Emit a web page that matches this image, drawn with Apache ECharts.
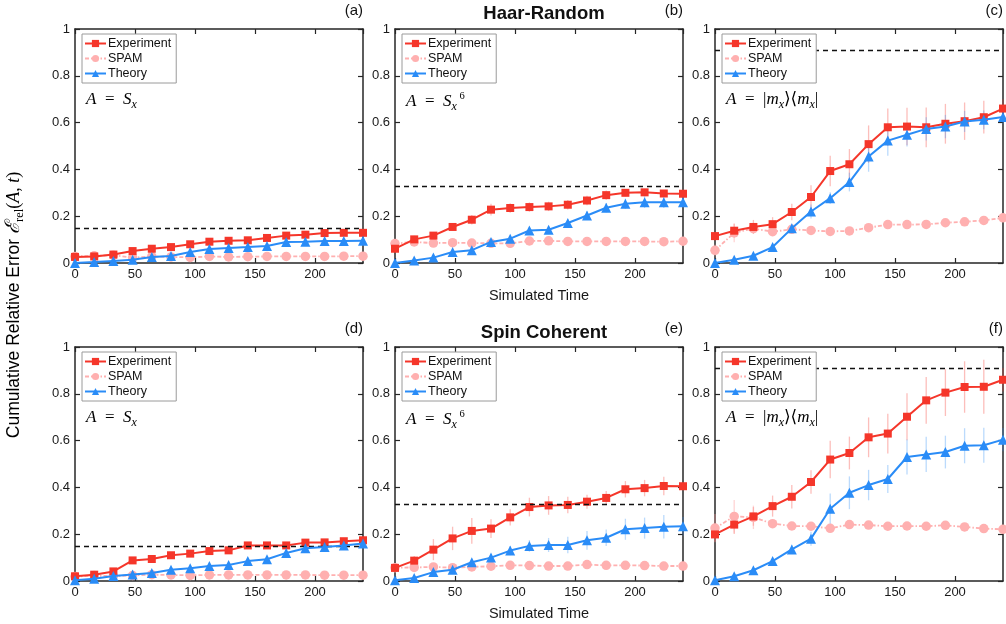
<!DOCTYPE html>
<html><head><meta charset="utf-8">
<script src="https://cdn.jsdelivr.net/npm/echarts@6/dist/echarts.min.js"></script>
<style>html,body{margin:0;padding:0;background:#fff}#c{width:1006px;height:624px}</style>
</head><body><div id="c"></div>
<script>
// ---------- data ----------
const timeSteps = [0,16,32,48,64,80,96,112,128,144,160,176,192,208,224,240];
const xTicks = [0,50,100,150,200];
const yTicks = [0,0.2,0.4,0.6,0.8,1];
const seriesNames = ['Experiment','SPAM','Theory'];
const panelLabels = ['(a)','(b)','(c)','(d)','(e)','(f)'];
const rowTitles = ['Haar-Random','Spin Coherent'];

// (a) Haar-Random, A = Sx
const expA  = [0.026,0.028,0.036,0.051,0.061,0.068,0.080,0.091,0.095,0.097,0.107,0.117,0.121,0.128,0.129,0.129];
const spamA = [0.028,0.031,0.033,0.023,0.028,0.026,0.024,0.028,0.026,0.027,0.028,0.028,0.028,0.028,0.029,0.029];
const theoA = [0.000,0.004,0.009,0.014,0.026,0.030,0.047,0.060,0.064,0.068,0.073,0.090,0.091,0.094,0.094,0.095];
const expErrA  = [0.004,0.004,0.005,0.005,0.006,0.006,0.006,0.006,0.006,0.006,0.006,0.006,0.006,0.006,0.006,0.006];
const spamErrA = [0.004,0.004,0.004,0.004,0.004,0.004,0.004,0.004,0.004,0.004,0.004,0.004,0.004,0.004,0.004,0.004];
const theoErrA = [0.000,0.002,0.003,0.004,0.005,0.005,0.006,0.006,0.006,0.006,0.006,0.006,0.006,0.006,0.006,0.006];
const limitA = 0.15;

// (b) Haar-Random, A = Sx^6
const expB  = [0.061,0.101,0.117,0.154,0.185,0.228,0.235,0.239,0.242,0.249,0.267,0.290,0.300,0.302,0.297,0.296];
const spamB = [0.083,0.090,0.085,0.087,0.085,0.084,0.084,0.094,0.095,0.092,0.092,0.092,0.092,0.092,0.091,0.093];
const theoB = [0.000,0.011,0.023,0.047,0.055,0.090,0.104,0.139,0.142,0.171,0.203,0.236,0.253,0.260,0.260,0.260];
const expErrB  = [0.010,0.015,0.012,0.015,0.020,0.025,0.020,0.020,0.020,0.020,0.020,0.020,0.015,0.015,0.015,0.015];
const spamErrB = [0.010,0.010,0.008,0.008,0.008,0.008,0.008,0.008,0.008,0.008,0.008,0.008,0.008,0.008,0.008,0.008];
const theoErrB = [0.000,0.006,0.008,0.010,0.010,0.012,0.012,0.015,0.015,0.015,0.018,0.020,0.022,0.025,0.025,0.022];
const limitB = 0.325;

// (c) Haar-Random, A = |m_x><m_x|
const expC  = [0.115,0.138,0.154,0.166,0.218,0.282,0.393,0.422,0.508,0.580,0.583,0.580,0.595,0.606,0.623,0.660];
const spamC = [0.054,0.129,0.147,0.134,0.144,0.139,0.135,0.137,0.151,0.164,0.164,0.165,0.172,0.176,0.182,0.193];
const theoC = [0.000,0.014,0.031,0.068,0.148,0.220,0.277,0.346,0.455,0.523,0.548,0.573,0.583,0.605,0.612,0.624];
const expErrC  = [0.020,0.030,0.030,0.030,0.035,0.050,0.065,0.065,0.080,0.080,0.080,0.085,0.085,0.080,0.070,0.040];
const spamErrC = [0.025,0.040,0.020,0.012,0.010,0.010,0.010,0.010,0.010,0.010,0.010,0.010,0.010,0.010,0.010,0.010];
const theoErrC = [0.000,0.010,0.010,0.015,0.020,0.030,0.025,0.040,0.065,0.065,0.050,0.050,0.050,0.045,0.040,0.030];
const limitC = 0.905;

// (d) Spin Coherent, A = Sx
const expD  = [0.020,0.027,0.041,0.088,0.094,0.110,0.117,0.128,0.131,0.152,0.152,0.152,0.164,0.165,0.170,0.174];
const spamD = [0.019,0.023,0.021,0.024,0.027,0.026,0.024,0.026,0.026,0.026,0.026,0.026,0.026,0.025,0.025,0.025];
const theoD = [0.003,0.010,0.021,0.028,0.034,0.048,0.054,0.064,0.068,0.085,0.093,0.120,0.140,0.145,0.152,0.160];
const expErrD  = [0.004,0.005,0.006,0.008,0.008,0.008,0.008,0.008,0.008,0.008,0.008,0.008,0.008,0.008,0.008,0.008];
const spamErrD = [0.004,0.004,0.004,0.004,0.004,0.004,0.004,0.004,0.004,0.004,0.004,0.004,0.004,0.004,0.004,0.004];
const theoErrD = [0.000,0.003,0.004,0.005,0.005,0.006,0.006,0.006,0.006,0.007,0.007,0.008,0.010,0.010,0.010,0.010];
const limitD = 0.15;

// (e) Spin Coherent, A = Sx^6
const expE  = [0.056,0.087,0.134,0.182,0.214,0.224,0.272,0.316,0.323,0.325,0.339,0.355,0.392,0.397,0.406,0.405];
const spamE = [0.057,0.058,0.060,0.057,0.060,0.063,0.067,0.066,0.064,0.064,0.070,0.067,0.067,0.066,0.064,0.064];
const theoE = [0.003,0.013,0.038,0.048,0.080,0.100,0.130,0.150,0.154,0.154,0.174,0.185,0.221,0.226,0.232,0.234];
const expErrE  = [0.010,0.020,0.045,0.050,0.055,0.040,0.035,0.040,0.040,0.035,0.030,0.030,0.035,0.035,0.040,0.015];
const spamErrE = [0.008,0.008,0.008,0.008,0.008,0.008,0.008,0.008,0.008,0.008,0.008,0.008,0.008,0.008,0.008,0.008];
const theoErrE = [0.000,0.010,0.010,0.010,0.010,0.015,0.020,0.025,0.030,0.035,0.040,0.035,0.045,0.045,0.050,0.040];
const limitE = 0.325;

// (f) Spin Coherent, A = |m_x><m_x|
const expF  = [0.199,0.241,0.276,0.320,0.360,0.423,0.519,0.547,0.614,0.630,0.702,0.772,0.805,0.829,0.830,0.860];
const spamF = [0.226,0.276,0.272,0.245,0.235,0.234,0.225,0.241,0.239,0.234,0.235,0.234,0.238,0.231,0.224,0.221];
const theoF = [0.003,0.020,0.046,0.085,0.135,0.181,0.309,0.377,0.410,0.436,0.530,0.541,0.551,0.578,0.580,0.604];
const expErrF  = [0.030,0.040,0.040,0.045,0.050,0.050,0.080,0.070,0.085,0.085,0.100,0.100,0.100,0.110,0.115,0.050];
const spamErrF = [0.060,0.070,0.050,0.012,0.010,0.010,0.010,0.010,0.010,0.010,0.010,0.010,0.010,0.010,0.010,0.010];
const theoErrF = [0.000,0.010,0.015,0.015,0.020,0.030,0.065,0.070,0.065,0.060,0.075,0.075,0.070,0.075,0.075,0.050];
const limitF = 0.905;

// ---------- presentation ----------
const panels = [
  {exp:expA,spam:spamA,theo:theoA,eE:expErrA,eS:spamErrA,eT:theoErrA,lim:limitA,obs:'sx'},
  {exp:expB,spam:spamB,theo:theoB,eE:expErrB,eS:spamErrB,eT:theoErrB,lim:limitB,obs:'sx6'},
  {exp:expC,spam:spamC,theo:theoC,eE:expErrC,eS:spamErrC,eT:theoErrC,lim:limitC,obs:'proj'},
  {exp:expD,spam:spamD,theo:theoD,eE:expErrD,eS:spamErrD,eT:theoErrD,lim:limitD,obs:'sx'},
  {exp:expE,spam:spamE,theo:theoE,eE:expErrE,eS:spamErrE,eT:theoErrE,lim:limitE,obs:'sx6'},
  {exp:expF,spam:spamF,theo:theoF,eE:expErrF,eS:spamErrF,eT:theoErrF,lim:limitF,obs:'proj'}
];
const LEFTS = [75, 395, 715], TOPS = [29, 347], W = 288, H = 234;
const C_EXP = '#f5362a', C_SPAM = '#ffb0b0', C_THEO = '#2a8cf7';
const E_EXP = 'rgba(245,54,42,0.32)', E_SPAM = 'rgba(255,160,160,0.45)', E_THEO = 'rgba(42,140,247,0.32)';
const AX = '#262626';
const SANS = '"Liberation Sans", Arial, Helvetica, sans-serif';
const SERIF = '"Liberation Serif", "DejaVu Serif", serif';

const grid = [], xAxis = [], yAxis = [], series = [], legend = [], graphic = [];

function errSeries(gi, vals, errs, color) {
  return {
    type: 'custom', xAxisIndex: gi*2, yAxisIndex: gi*2, silent: true, z: 1,
    data: timeSteps.map((t, i) => [t, vals[i] - errs[i], vals[i] + errs[i]]),
    encode: {x: 0, y: [1, 2]},
    renderItem: (params, api) => {
      const p1 = api.coord([api.value(0), api.value(1)]);
      const p2 = api.coord([api.value(0), api.value(2)]);
      return {type: 'line', shape: {x1: p1[0], y1: p1[1], x2: p2[0], y2: p2[1]},
              style: {stroke: color, lineWidth: 1.3}};
    }
  };
}

const mathRich = {
  i: {fontFamily: SERIF, fontStyle: 'italic', fontSize: 17, lineHeight: 22, color: '#111'},
  o: {fontFamily: SERIF, fontSize: 17, lineHeight: 22, color: '#111'},
  sub: {fontFamily: SERIF, fontStyle: 'italic', fontSize: 12, lineHeight: 12, verticalAlign: 'bottom', color: '#111'},
  sup: {fontFamily: SERIF, fontSize: 10.5, lineHeight: 10, verticalAlign: 'top', color: '#111'}
};
const obsText = {
  sx: '{i|A}{o|  =  }{i|S}{sub|x}',
  sx6: '{i|A}{o|  =  }{i|S}{sub|x}{sup| 6}',
  proj: '{i|A}{o|  =  |}{i|m}{sub|x}{o|⟩⟨}{i|m}{sub|x}{o||}'
};

panels.forEach((p, g) => {
  const row = Math.floor(g / 3), col = g % 3;
  const left = LEFTS[col], top = TOPS[row];
  grid.push({left: left, top: top, width: W, height: H, containLabel: false});
  const common = {type: 'value', min: 0, gridIndex: g, splitLine: {show: false}};
  xAxis.push(Object.assign({}, common, {
    max: 240, interval: 50, position: 'bottom',
    axisLine: {onZero: false, lineStyle: {color: AX, width: 1.5}},
    axisTick: {inside: true, length: 5, lineStyle: {color: AX, width: 1.2}},
    axisLabel: {color: '#1a1a1a', fontSize: 13, fontFamily: SANS, margin: 5, showMaxLabel: false},
    name: col === 1 ? 'Simulated Time' : '', nameLocation: 'middle', nameGap: 25,
    nameTextStyle: {fontSize: 14.5, fontFamily: SANS, color: '#1a1a1a'}
  }));
  xAxis.push(Object.assign({}, common, {
    max: 240, interval: 50, position: 'top',
    axisLine: {onZero: false, lineStyle: {color: AX, width: 1.5}},
    axisTick: {inside: true, length: 5, lineStyle: {color: AX, width: 1.2}},
    axisLabel: {show: false}
  }));
  yAxis.push(Object.assign({}, common, {
    max: 1, interval: 0.2, position: 'left',
    axisLine: {show: true, onZero: false, lineStyle: {color: AX, width: 1.5}},
    axisTick: {show: true, inside: true, length: 5, lineStyle: {color: AX, width: 1.2}},
    axisLabel: {color: '#1a1a1a', fontSize: 13, fontFamily: SANS, margin: 5}
  }));
  yAxis.push(Object.assign({}, common, {
    max: 1, interval: 0.2, position: 'right',
    axisLine: {show: true, onZero: false, lineStyle: {color: AX, width: 1.5}},
    axisTick: {show: true, inside: true, length: 5, lineStyle: {color: AX, width: 1.2}},
    axisLabel: {show: false}
  }));

  series.push(errSeries(g, p.exp, p.eE, E_EXP));
  series.push(errSeries(g, p.spam, p.eS, E_SPAM));
  series.push(errSeries(g, p.theo, p.eT, E_THEO));

  series.push({
    name: 'Experiment', type: 'line', xAxisIndex: g*2, yAxisIndex: g*2, z: 4,
    data: timeSteps.map((t, i) => [t, p.exp[i]]),
    symbol: 'rect', symbolSize: 8, showSymbol: true,
    lineStyle: {color: C_EXP, width: 2}, itemStyle: {color: C_EXP},
    markLine: {silent: true, symbol: 'none', label: {show: false}, animation: false,
      lineStyle: {color: '#111', type: [5, 4], width: 1.3},
      data: [{yAxis: p.lim}]}
  });
  series.push({
    name: 'SPAM', type: 'line', xAxisIndex: g*2, yAxisIndex: g*2, z: 3,
    data: timeSteps.map((t, i) => [t, p.spam[i]]),
    symbol: 'circle', symbolSize: 9.5,
    lineStyle: {color: C_SPAM, width: 1.8, type: [4, 2, 1.5, 2]}, itemStyle: {color: C_SPAM}
  });
  series.push({
    name: 'Theory', type: 'line', xAxisIndex: g*2, yAxisIndex: g*2, z: 5,
    data: timeSteps.map((t, i) => [t, p.theo[i]]),
    symbol: 'triangle', symbolSize: 10,
    lineStyle: {color: C_THEO, width: 2}, itemStyle: {color: C_THEO}
  });

  legend.push({
    data: seriesNames, orient: 'vertical', left: left + 7, top: top + 5, z: 20,
    selectedMode: false, itemWidth: 21, itemHeight: 9, itemGap: 2,
    padding: [3, 5, 3, 2], backgroundColor: '#fff', borderColor: '#9a9a9a', borderWidth: 1,
    textStyle: {fontSize: 12.5, fontFamily: SANS, color: '#111', padding: [0, 0, 0, -3]}
  });

  graphic.push({
    type: 'text', left: left + 11, top: top + 62, z: 30,
    style: {text: obsText[p.obs], rich: mathRich}
  });
  graphic.push({
    type: 'text', right: 1006 - (left + W), top: top - 26, z: 30,
    style: {text: panelLabels[g], fontSize: 15, fontFamily: SANS, fill: '#111'}
  });
});

graphic.push({
  type: 'text', x: 14, y: 305, rotation: Math.PI / 2, z: 30,
  style: {
    text: '{t|Cumulative Relative Error }{e|ℰ}{r|rel}{p|(}{i|A}{p|, }{i|t}{p|)}',
    align: 'center', verticalAlign: 'middle',
    rich: {
      t: {fontFamily: SANS, fontSize: 17.5, color: '#111', lineHeight: 24},
      e: {fontFamily: SERIF, fontStyle: 'italic', fontSize: 20, color: '#111', lineHeight: 24},
      r: {fontFamily: SERIF, fontSize: 12.5, color: '#111', lineHeight: 13, verticalAlign: 'bottom'},
      p: {fontFamily: SERIF, fontSize: 18, color: '#111', lineHeight: 24},
      i: {fontFamily: SERIF, fontStyle: 'italic', fontSize: 18, color: '#111', lineHeight: 24}
    }
  }
});

const option = {
  animation: false,
  backgroundColor: '#fff',
  title: [
    {text: rowTitles[0], left: LEFTS[1] + W/2, top: -1, textAlign: 'center',
     textStyle: {fontSize: 18.5, fontWeight: 'bold', fontFamily: SANS, color: '#111'}},
    {text: rowTitles[1], left: LEFTS[1] + W/2, top: 318, textAlign: 'center',
     textStyle: {fontSize: 18.5, fontWeight: 'bold', fontFamily: SANS, color: '#111'}}
  ],
  grid, xAxis, yAxis, series, legend, graphic
};

const chart = echarts.init(document.getElementById('c'), null, {renderer: 'canvas'});
chart.setOption(option);
</script>
</body></html>
